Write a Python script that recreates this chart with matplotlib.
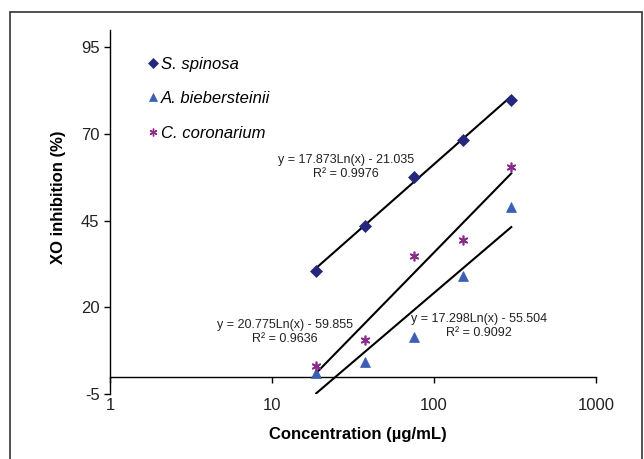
import numpy as np
import matplotlib
matplotlib.use("Agg")
import matplotlib.pyplot as plt
from matplotlib.patches import Rectangle
from matplotlib.lines import Line2D

plt.rcParams['font.family'] = ['Liberation Sans', 'DejaVu Sans']
plt.rcParams['axes.unicode_minus'] = False

# ---- data ----
concentration = [18.75, 37.5, 75, 150, 300]
series_names = ["S. spinosa", "A. biebersteinii", "C. coronarium"]
s_spinosa = [30.4, 43.4, 57.5, 68.2, 79.9]
a_bieb = [1.2, 4.3, 11.3, 29.0, 48.8]
c_coron = [3.1, 10.5, 34.8, 39.5, 60.5]
# logarithmic trendline coefficients: y = a*ln(x) + b
fit_a = [17.873, 17.298, 20.775]
fit_b = [-21.035, -55.504, -59.855]
fit_r2 = ["0.9976", "0.9092", "0.9636"]
y_ticks = [-5, 20, 45, 70, 95]
x_ticks = [1, 10, 100, 1000]
x_tick_labels = ["1", "10", "100", "1000"]

W, H = 644, 459
fig = plt.figure(figsize=(W / 100, H / 100), dpi=100)
ax = fig.add_axes([110 / W, 1 - 394 / H, (596 - 110) / W, (394 - 30) / H])

colors = ["#25287a", "#3a5fb5", "#8c2a8c"]
markers = ["D", "^", (6, 2, 0)]
msizes = [6, 7, 7]
series = [s_spinosa, a_bieb, c_coron]

# trendlines
xfit = np.geomspace(concentration[0], concentration[-1], 100)
for a, b in zip(fit_a, fit_b):
    ax.plot(xfit, a * np.log(xfit) + b, color="black", lw=1.5, zorder=2)

for vals, c, m, ms in zip(series, colors, markers, msizes):
    ax.plot(concentration, vals, linestyle="none", marker=m, color=c,
            markersize=ms, markeredgewidth=1.2 if m == markers[2] else 0.5,
            markeredgecolor=c, zorder=3)

ax.set_xscale("log")
ax.set_xlim(1, 1000)
ax.set_ylim(-5, 100)
ax.set_yticks(y_ticks)
ax.set_xticks(x_ticks)
ax.set_xticklabels(x_tick_labels)
ax.xaxis.set_minor_locator(matplotlib.ticker.NullLocator())

for s in ["top", "right"]:
    ax.spines[s].set_visible(False)
ax.spines["bottom"].set_position(("data", 0))
ax.spines["bottom"].set_linewidth(1.0)
ax.spines["left"].set_linewidth(1.0)
ax.tick_params(axis="both", direction="out", length=4, width=1, labelsize=12,
               colors="black", labelcolor="#222222")
ax.tick_params(axis="x", pad=11)

ax.set_xlabel("Concentration (µg/mL)", fontsize=12, fontweight="bold")
ax.set_ylabel("XO inhibition (%)", fontsize=12, fontweight="bold")
ax.xaxis.set_label_coords(0.51, -0.092)
ax.yaxis.set_label_coords(-0.09, 0.541)

# equation labels
eq_pos = [(28.6, 60.5), (190, 14.55), (12.0, 12.8)]
for i in range(3):
    txt = f"y = {fit_a[i]:.3f}Ln(x) - {abs(fit_b[i]):.3f}\nR² = {fit_r2[i]}"
    ax.text(eq_pos[i][0], eq_pos[i][1], txt, fontsize=9, ha="center",
            va="center", multialignment="center", color="#222222")

handles = [Line2D([], [], linestyle="none", marker=m, color=c, markersize=ms * 0.8,
                  markeredgecolor=c, markeredgewidth=1.0 if m == markers[2] else 0.5)
           for c, m, ms in zip(colors, markers, msizes)]
leg = ax.legend(handles, series_names, loc="upper left",
                bbox_to_anchor=(0.078, 0.927), frameon=False, borderpad=0,
                handlelength=0.6, handletextpad=0.2, labelspacing=1.17,
                borderaxespad=0, prop={"size": 12, "style": "italic"})

# outer frame
fig.patches.append(Rectangle((10 / W, -0.1), (642 - 10) / W, 1.1 - 12.5 / H,
                             transform=fig.transFigure, fill=False,
                             edgecolor="#333333", lw=1.2))

fig.savefig("out.png", dpi=100)
